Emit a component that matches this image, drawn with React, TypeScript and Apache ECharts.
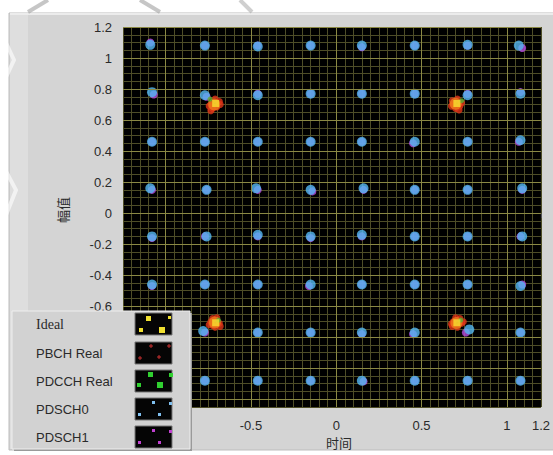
import React, { useEffect, useRef } from "react";
import * as echarts from "echarts";

// axis tick labels (those under the legend are hidden in the reference)
const xTickLabels = [-0.5, 0, 0.5, 1, 1.2];
const yTickLabels = [-0.6, -0.4, -0.2, 0, 0.2, 0.4, 0.6, 0.8, 1, 1.2];
// major (bright) grid lines
const xMajorLines = [-1, -0.5, 0, 0.5, 1];
const yMajorLines = [-1.2, -1, -0.8, -0.6, -0.4, -0.2, 0, 0.2, 0.4, 0.6, 0.8, 1, 1.2];

// Ideal QPSK constellation
const idealPoints = [
  [-0.707, 0.707], [0.707, 0.707], [-0.707, -0.707], [0.707, -0.707],
];

// PBCH received points (red/orange cloud around the ideal points)
const pbchPoints = [
  [-0.735, 0.70], [-0.725, 0.675], [-0.70, 0.685], [-0.685, 0.72], [-0.745, 0.69], [-0.71, 0.735], [-0.735, 0.66], [-0.68, 0.70],
  [0.685, 0.70], [0.70, 0.675], [0.725, 0.69], [0.68, 0.725], [0.71, 0.735], [0.735, 0.71], [0.72, 0.665], [0.675, 0.69],
  [-0.735, -0.70], [-0.71, -0.735], [-0.685, -0.71], [-0.725, -0.68], [-0.70, -0.675], [-0.745, -0.72], [-0.68, -0.73], [-0.725, -0.725],
  [0.685, -0.70], [0.71, -0.735], [0.735, -0.71], [0.70, -0.675], [0.725, -0.68], [0.68, -0.73], [0.745, -0.70], [0.675, -0.715],
];
const pbchCore = [
  [-0.715, 0.700], [0.700, 0.705], [-0.712, -0.705], [0.705, -0.708],
];

// PDCCH received points (green)
const pdcchPoints = [
  [-0.74, 0.735], [0.735, 0.725], [-0.69, -0.69], [0.73, -0.69],
];

// PDSCH0 (64QAM, light blue)
const pdsch0Points = [
  [-1.09, 1.085], [-0.77, 1.08], [-0.46, 1.075], [-0.15, 1.08], [0.15, 1.08], [0.46, 1.08], [0.77, 1.085], [1.07, 1.08],
  [-1.08, 0.78], [-0.77, 0.76], [-0.46, 0.76], [-0.15, 0.77], [0.15, 0.77], [0.46, 0.77], [0.77, 0.76], [1.08, 0.77],
  [-1.08, 0.46], [-0.77, 0.46], [-0.46, 0.46], [-0.15, 0.46], [0.15, 0.46], [0.46, 0.46], [0.77, 0.46], [1.08, 0.47],
  [-1.09, 0.16], [-0.76, 0.15], [-0.47, 0.16], [-0.15, 0.15], [0.16, 0.16], [0.46, 0.15], [0.77, 0.15], [1.09, 0.16],
  [-1.08, -0.15], [-0.76, -0.15], [-0.46, -0.14], [-0.15, -0.15], [0.15, -0.14], [0.46, -0.15], [0.77, -0.15], [1.09, -0.15],
  [-1.08, -0.46], [-0.77, -0.46], [-0.46, -0.46], [-0.15, -0.46], [0.15, -0.46], [0.46, -0.46], [0.77, -0.46], [1.08, -0.47],
  [-1.08, -0.77], [-0.78, -0.76], [-0.46, -0.77], [-0.15, -0.77], [0.15, -0.77], [0.46, -0.77], [0.78, -0.75], [1.08, -0.77],
  [-1.08, -1.08], [-0.77, -1.08], [-0.46, -1.08], [-0.15, -1.08], [0.15, -1.08], [0.46, -1.08], [0.77, -1.08], [1.08, -1.08],
];

// PDSCH1 (64QAM, magenta)
const pdsch1Points = [
  [-1.09, 1.10], [-0.77, 1.08], [-0.46, 1.08], [-0.15, 1.08], [0.15, 1.07], [0.46, 1.08], [0.77, 1.08], [1.09, 1.065],
  [-1.07, 0.765], [-0.76, 0.75], [-0.46, 0.77], [-0.15, 0.77], [0.15, 0.77], [0.46, 0.77], [0.77, 0.77], [1.08, 0.78],
  [-1.08, 0.46], [-0.77, 0.46], [-0.46, 0.46], [-0.15, 0.46], [0.15, 0.46], [0.45, 0.45], [0.77, 0.46], [1.07, 0.46],
  [-1.08, 0.15], [-0.76, 0.15], [-0.46, 0.15], [-0.14, 0.14], [0.16, 0.15], [0.46, 0.15], [0.77, 0.15], [1.09, 0.15],
  [-1.08, -0.16], [-0.77, -0.15], [-0.46, -0.15], [-0.15, -0.16], [0.15, -0.15], [0.46, -0.15], [0.77, -0.15], [1.08, -0.15],
  [-1.08, -0.47], [-0.77, -0.46], [-0.46, -0.46], [-0.16, -0.47], [0.15, -0.46], [0.46, -0.46], [0.77, -0.46], [1.09, -0.46],
  [-1.08, -0.77], [-0.77, -0.77], [-0.46, -0.77], [-0.15, -0.77], [0.15, -0.78], [0.45, -0.78], [0.76, -0.77], [1.08, -0.77],
  [-1.08, -1.08], [-0.77, -1.08], [-0.46, -1.08], [-0.15, -1.08], [0.16, -1.085], [0.46, -1.08], [0.77, -1.08], [1.08, -1.08],
];

const legendItems = ["Ideal", "PBCH Real", "PDCCH Real", "PDSCH0", "PDSCH1"];

export default function App() {
  const ref = useRef<HTMLDivElement>(null);

  useEffect(() => {
    if (!ref.current) return;
    const chart = echarts.init(ref.current, null, { renderer: "svg" });

    const GL = 123, GT = 27, GW = 422, GH = 380;
    const axisFont = { fontFamily: "Liberation Sans", fontSize: 13, color: "#2a2a2a" };

    // legend graphics
    const lgX = 12, lgY = 311, lgW = 178, lgH = 138;
    const rowY = [324, 353, 381, 409, 437];
    const swX = 135, swW = 37, swH = 22;
    const legendGraphics: any[] = [
      { type: "rect", shape: { x: lgX + 2, y: lgY + 2, width: lgW, height: lgH }, style: { fill: "#9a9a9a" }, z: 100 },
      { type: "rect", shape: { x: lgX, y: lgY, width: lgW, height: lgH }, style: { fill: "#d2d2d2", stroke: "#eeeeee", lineWidth: 1 }, z: 101 },
    ];
    legendItems.forEach((name, i) => {
      legendGraphics.push({
        type: "text", z: 102,
        style: {
          text: name, x: 36, y: rowY[i], verticalAlign: "middle",
          font: i === 0 ? "14px 'Liberation Serif'" : "13px 'Liberation Sans'",
          fill: "#2a2a2a",
        },
      });
      legendGraphics.push({
        type: "rect", z: 102,
        shape: { x: swX, y: rowY[i] - 11, width: swW, height: swH },
        style: { fill: "#050505", stroke: "#777", lineWidth: 1 },
      });
    });
    const sw = (i: number) => rowY[i] - 11;
    // Ideal swatch: yellow squares
    [[146, 3, 5], [168, 3, 3], [139, 15, 4], [159, 14, 6]].forEach(([x, dy, s]) =>
      legendGraphics.push({ type: "rect", z: 103, shape: { x, y: sw(0) + dy, width: s, height: s }, style: { fill: "#f0e030" } }));
    // PBCH swatch: red crosses
    [[151, sw(1) + 4], [169, sw(1) + 4], [140, sw(1) + 16], [159, sw(1) + 15]].forEach(([x, y]) => {
      legendGraphics.push({ type: "line", z: 103, shape: { x1: x - 2, y1: y, x2: x + 2, y2: y }, style: { stroke: "#c83030", lineWidth: 1 } });
      legendGraphics.push({ type: "line", z: 103, shape: { x1: x, y1: y - 2, x2: x, y2: y + 2 }, style: { stroke: "#c83030", lineWidth: 1 } });
    });
    // PDCCH swatch: green squares
    [[148, 2, 5], [169, 3, 4], [137, 13, 4], [157, 12, 6]].forEach(([x, dy, s]) =>
      legendGraphics.push({ type: "rect", z: 103, shape: { x, y: sw(2) + dy, width: s, height: s }, style: { fill: "#30d030" } }));
    // PDSCH0 swatch: light blue dots
    [[152, 3], [169, 4], [138, 15], [158, 15]].forEach(([x, dy]) =>
      legendGraphics.push({ type: "rect", z: 103, shape: { x, y: sw(3) + dy, width: 3, height: 3 }, style: { fill: "#80c0f0" } }));
    // PDSCH1 swatch: magenta dots
    [[152, 3], [169, 4], [138, 15], [158, 15]].forEach(([x, dy]) =>
      legendGraphics.push({ type: "rect", z: 103, shape: { x, y: sw(4) + dy, width: 3, height: 3 }, style: { fill: "#c040d0" } }));

    const option: any = {
      animation: false,
      backgroundColor: "#ffffff",
      grid: {
        left: GL, top: GT, width: GW, height: GH,
        show: true, backgroundColor: "#000000", borderWidth: 0,
      },
      xAxis: [
        {
          type: "value", min: -1.25, max: 1.2, interval: 0.05,
          axisLine: { show: false }, axisTick: { show: false }, axisLabel: { show: false },
          splitLine: { show: true, lineStyle: { color: "#4e4d27", width: 1 } },
        },
        {
          type: "value", min: -1.25, max: 1.2, position: "bottom", offset: 4,
          axisLine: { show: false },
          axisTick: { show: true, length: 5, customValues: xTickLabels, lineStyle: { color: "#555" } },
          axisLabel: { show: true, margin: 8, customValues: xTickLabels, ...axisFont },
          splitLine: { show: false },
        },
      ],
      yAxis: [
        {
          type: "value", min: -1.25, max: 1.2, interval: 0.05,
          axisLine: { show: false }, axisTick: { show: false }, axisLabel: { show: false },
          splitLine: { show: true, lineStyle: { color: "#4e4d27", width: 1 } },
        },
        {
          type: "value", min: -1.25, max: 1.2, position: "left", offset: 1,
          axisLine: { show: false },
          axisTick: { show: true, length: 6, customValues: yTickLabels, lineStyle: { color: "#555" } },
          axisLabel: { show: true, margin: 10, customValues: yTickLabels, ...axisFont },
          splitLine: { show: false },
        },
      ],
      graphic: [
        // outer panel
        { type: "rect", shape: { x: 9, y: 13, width: 550, height: 437 }, style: { fill: "#d4d4d4", stroke: "#bdbdbd", lineWidth: 1 }, z: -10 },
        { type: "rect", shape: { x: 10, y: 14, width: 18, height: 435 }, style: { fill: "#dedede" }, z: -9 },
        { type: "line", shape: { x1: 10, y1: 14, x2: 553, y2: 14 }, style: { stroke: "#ececec", lineWidth: 2 }, z: -9 },
        // watermark-like faint strokes
        { type: "polyline", shape: { points: [[28, 12], [48, 0]] }, style: { stroke: "rgba(160,160,160,0.6)", lineWidth: 4 }, z: -8 },
        { type: "polyline", shape: { points: [[140, 0], [160, 12]] }, style: { stroke: "rgba(160,160,160,0.6)", lineWidth: 4 }, z: -8 },
        { type: "polyline", shape: { points: [[240, 0], [252, 12]] }, style: { stroke: "rgba(160,160,160,0.5)", lineWidth: 4 }, z: -8 },
        { type: "polyline", shape: { points: [[0, 30], [14, 60], [0, 90]] }, style: { stroke: "rgba(255,255,255,0.6)", lineWidth: 4 }, z: -8 },
        { type: "polyline", shape: { points: [[0, 160], [16, 190], [0, 230]] }, style: { stroke: "rgba(255,255,255,0.6)", lineWidth: 4 }, z: -8 },
        // axis names
        {
          type: "text", z: 5,
          style: { text: "时间", x: 339, y: 442, align: "center", verticalAlign: "middle", font: "13px 'Noto Sans CJK SC'", fill: "#2a2a2a" },
        },
        {
          type: "text", z: 5, x: 62, y: 210, rotation: Math.PI / 2,
          style: { text: "幅值", x: 0, y: 0, align: "center", verticalAlign: "middle", font: "13px 'Noto Sans CJK SC'", fill: "#2a2a2a" },
        },
        ...legendGraphics,
      ],
      series: [
        {
          type: "line", data: [], xAxisIndex: 0, yAxisIndex: 0, silent: true,
          markLine: {
            silent: true, symbol: "none", label: { show: false },
            lineStyle: { color: "#8a8844", width: 1, type: "solid" },
            data: [
              ...xMajorLines.map((v) => ({ xAxis: v })),
              ...yMajorLines.map((v) => ({ yAxis: v })),
            ],
          },
        },
        {
          name: "PDSCH1", type: "scatter", data: pdsch1Points, symbol: "circle", symbolSize: 8,
          itemStyle: { color: "#b84be0" }, z: 3,
        },
        {
          name: "PDSCH0", type: "scatter", data: pdsch0Points, symbol: "circle", symbolSize: 10,
          itemStyle: { color: "#55b9f4" }, z: 4,
        },
        {
          name: "PBCH Real", type: "scatter", data: pbchPoints, symbol: "circle", symbolSize: 7,
          itemStyle: { color: "#e03418" }, z: 5,
        },
        {
          name: "PBCH Real core", type: "scatter", data: pbchCore, symbol: "circle", symbolSize: 12,
          itemStyle: { color: "#f07a1c" }, z: 5,
        },
        {
          name: "PDCCH Real", type: "scatter", data: pdcchPoints, symbol: "circle", symbolSize: 5,
          itemStyle: { color: "#5cb030" }, z: 6,
        },
        {
          name: "Ideal", type: "scatter", data: idealPoints, symbol: "rect", symbolSize: 7,
          itemStyle: { color: "#f8e030" }, z: 7,
        },
      ],
    };
    chart.setOption(option);
    return () => chart.dispose();
  }, []);

  return (
    <div
      ref={ref}
      style={{ position: "fixed", left: 0, top: 0, width: 553, height: 455 }}
    />
  );
}
